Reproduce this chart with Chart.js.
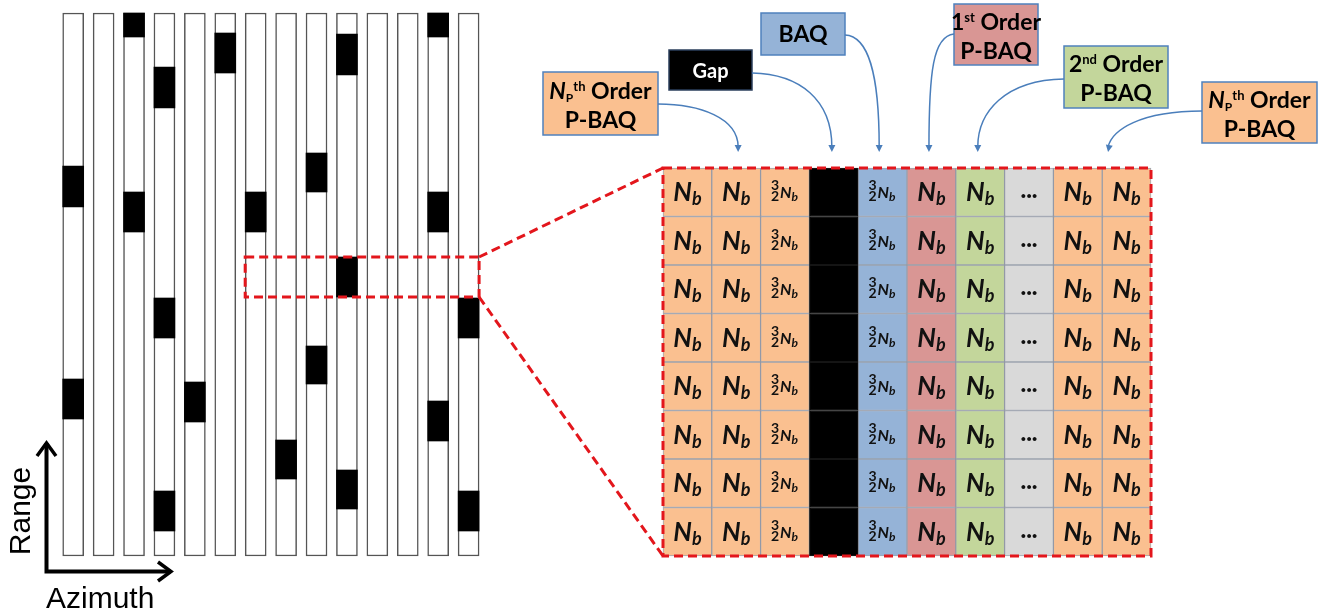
<!DOCTYPE html>
<html>
<head>
<meta charset="utf-8">
<script src="https://cdn.jsdelivr.net/npm/chart.js@4.4.0/dist/chart.umd.min.js"></script>
<style>
  html, body { margin: 0; padding: 0; background: #fff; }
  canvas { display: block; }
</style>
</head>
<body>
<canvas id="diagram" width="1328" height="616"></canvas>
<script>
// ---- data ----
// Swath: 14 azimuth lines, range in samples counted from the top of the swath
const azimuthLines = [0, 1, 2, 3, 4, 5, 6, 7, 8, 9, 10, 11, 12, 13];
const rangeExtent = [0, 543];
// black (gap) blocks: line index, first and last range sample
const gapLine  = [0, 0, 2, 2, 3, 3, 3, 4, 5, 6, 7, 8, 8, 9, 9, 9, 12, 12, 12, 13, 13];
const gapStart = [153, 366, 0, 179, 54, 285, 478, 369, 20, 179, 427, 140, 333, 21, 244, 457, 0, 179, 388, 285, 478];
const gapEnd   = [194, 406, 24, 219, 95, 325, 518, 409, 60, 219, 466, 179, 371, 62, 284, 496, 24, 219, 428, 325, 518];
// zoomed row
const zoomLines = [6, 13];
const zoomRange = [244, 284];

// Block grid on the right: 10 columns x 8 rows
const blockKinds  = ['np', 'np', 'np', 'gap', 'baq', 'p1', 'p2', 'more', 'np', 'np'];
const blockLabels = ['Nb', 'Nb', '3/2 Nb', '', '3/2 Nb', 'Nb', 'Nb', '...', 'Nb', 'Nb'];
const blockRows = 8;

// Callouts: kind, text lines (runs of [text, style]) and the grid column the arrow points to
const calloutKinds = ['np', 'gap', 'baq', 'p1', 'p2', 'np'];
const calloutLines = [
  [[['N', 'ni'], ['P', 'sub'], ['th', 'sup'], [' Order', 'b']], [['P-BAQ', 'b']]],
  [[['Gap', 'g']]],
  [[['BAQ', 'b']]],
  [[['1', 'b'], ['st', 'sup'], [' Order', 'b']], [['P-BAQ', 'b']]],
  [[['2', 'b'], ['nd', 'sup'], [' Order', 'b']], [['P-BAQ', 'b']]],
  [[['N', 'ni'], ['P', 'sub'], ['th', 'sup'], [' Order', 'b']], [['P-BAQ', 'b']]]
];
const calloutTargets = [1.54, 3.46, 4.43, 5.45, 6.45, 9.12];

const kindColors = { np: '#FAC090', gap: '#000000', baq: '#95B3D7', p1: '#D99694', p2: '#C3D69B', more: '#D9D9D9' };

// ---- layout (pixels) ----
const W = 1328, H = 616;
const boxes = [
  { x: 543, y: 72, w: 115, h: 63, sx: 658, sy: 104, c1: [700, 104], c2: [0, -34] },
  { x: 669, y: 50, w: 83, h: 40, sx: 752, sy: 73, c1: [800, 74], c2: [0, -52] },
  { x: 761, y: 13, w: 84, h: 42, sx: 845, sy: 35, c1: [868, 36], c2: [0, -80] },
  { x: 954, y: 4, w: 84, h: 61, sx: 954, sy: 34, c1: [933, 36], c2: [0, -80] },
  { x: 1064, y: 46, w: 104, h: 62, sx: 1064, sy: 79, c1: [1005, 80], c2: [0, -40] },
  { x: 1202, y: 82, w: 115, h: 61, sx: 1202, sy: 111, c1: [1140, 111], c2: [4, -22] }
];
const arrowEndY = 152;
const RED = '#E3161C';
const BLUE_LINE = '#4A7EBB';
const FONT = 'Lato, "Open Sans", sans-serif';

// map two anchor values to pixels on a hidden linear axis
function fit(v1, p1, v2, p2, total) {
  const k = (p2 - p1) / (v2 - v1);
  const min = v1 - p1 / k;
  return { min, max: min + total / k };
}

const cells = [];
blockKinds.forEach((kind, c) => {
  for (let r = 0; r < blockRows; r++) {
    cells.push({ x: c + 0.5, y: [r, r + 1], kind, label: blockLabels[c] });
  }
});

const runStyles = {
  b:   { font: '700 23px ' + FONT, dy: 0 },
  g:   { font: '700 20px ' + FONT, dy: 0 },
  ni:  { font: 'italic 700 23px ' + FONT, dy: 0 },
  sub: { font: '700 12px ' + FONT, dy: 3 },
  sup: { font: '700 13px ' + FONT, dy: -8 }
};

function drawRuns(ctx, runs, cx, baseline) {
  let total = 0;
  runs.forEach(r => { ctx.font = r.font; r.w = ctx.measureText(r.t).width; total += r.w; });
  let x = cx - total / 2;
  ctx.textAlign = 'left';
  ctx.textBaseline = 'alphabetic';
  runs.forEach(r => { ctx.font = r.font; ctx.fillText(r.t, x, baseline + (r.dy || 0)); x += r.w; });
}

function drawCellLabel(ctx, label, cx, cy) {
  ctx.fillStyle = '#111';
  if (label === 'Nb') {
    drawRuns(ctx, [
      { t: 'N', font: 'italic 700 26px ' + FONT },
      { t: 'b', font: 'italic 700 18px ' + FONT, dy: 4 }
    ], cx, cy + 9);
  } else if (label === '3/2 Nb') {
    ctx.textAlign = 'center';
    ctx.textBaseline = 'alphabetic';
    ctx.font = '700 14px ' + FONT;
    ctx.fillText('3', cx - 10, cy - 2);
    ctx.fillText('2', cx - 10, cy + 9);
    ctx.textAlign = 'left';
    ctx.font = 'italic 700 16px ' + FONT;
    ctx.fillText('N', cx - 5, cy + 6);
    const nw = ctx.measureText('N').width;
    ctx.font = 'italic 700 12px ' + FONT;
    ctx.fillText('b', cx - 5 + nw, cy + 9);
  } else if (label === '...') {
    ctx.textAlign = 'center';
    ctx.textBaseline = 'alphabetic';
    ctx.font = '900 24px ' + FONT;
    ctx.fillText('...', cx, cy + 6);
  }
}

function dashedRect(ctx, x1, y1, x2, y2) {
  ctx.strokeRect(x1, y1, x2 - x1, y2 - y1);
}

const diagramPlugin = {
  id: 'diagram',
  afterDatasetsDraw(chart) {
    const ctx = chart.ctx;
    const { xL, yL, xR, yR } = chart.scales;
    ctx.save();

    // labels in the grid cells
    const meta = chart.getDatasetMeta(0);
    meta.data.forEach((el, i) => {
      const raw = chart.data.datasets[0].data[i];
      drawCellLabel(ctx, raw.label, el.x, (el.y + el.base) / 2);
    });

    // red dashed zoom frame and connectors
    const half = 10.5;
    const zx1 = xL.getPixelForValue(zoomLines[0]) - half;
    const zx2 = xL.getPixelForValue(zoomLines[1]) + half;
    const zy1 = yL.getPixelForValue(zoomRange[0]);
    const zy2 = yL.getPixelForValue(zoomRange[1]);
    const gx1 = xR.getPixelForValue(0), gx2 = xR.getPixelForValue(blockKinds.length);
    const gy1 = yR.getPixelForValue(0), gy2 = yR.getPixelForValue(blockRows);
    ctx.strokeStyle = RED;
    ctx.lineWidth = 3;
    ctx.setLineDash([9, 5]);
    dashedRect(ctx, zx1, zy1, zx2, zy2);
    dashedRect(ctx, gx1, gy1, gx2, gy2);
    ctx.beginPath();
    ctx.moveTo(zx2, zy1); ctx.lineTo(gx1, gy1);
    ctx.moveTo(zx2, zy2); ctx.lineTo(gx1, gy2);
    ctx.stroke();
    ctx.setLineDash([]);

    // callouts with curved arrows
    boxes.forEach((b, i) => {
      const kind = calloutKinds[i];
      ctx.fillStyle = kindColors[kind];
      ctx.fillRect(b.x, b.y, b.w, b.h);
      ctx.strokeStyle = kind === 'gap' ? '#2b3f5c' : '#4F81BD';
      ctx.lineWidth = 1.5;
      ctx.strokeRect(b.x, b.y, b.w, b.h);
      ctx.fillStyle = kind === 'gap' ? '#fff' : '#000';
      const lines = calloutLines[i];
      const mid = b.y + b.h / 2;
      const bases = lines.length === 1 ? [mid + 8] : [mid - 5, mid + 24];
      lines.forEach((line, j) => {
        const runs = line.map(([t, s]) => ({ t, font: runStyles[s].font, dy: runStyles[s].dy }));
        drawRuns(ctx, runs, b.x + b.w / 2, bases[j]);
      });

      const ex = xR.getPixelForValue(calloutTargets[i]);
      const ey = arrowEndY;
      const c2x = ex + b.c2[0], c2y = ey + b.c2[1];
      ctx.strokeStyle = BLUE_LINE;
      ctx.lineWidth = 1.5;
      ctx.beginPath();
      ctx.moveTo(b.sx, b.sy);
      ctx.bezierCurveTo(b.c1[0], b.c1[1], c2x, c2y, ex, ey - 5);
      ctx.stroke();
      const ang = Math.atan2(ey - c2y, ex - c2x);
      const len = 7, hw = 3.5;
      ctx.fillStyle = BLUE_LINE;
      ctx.beginPath();
      ctx.moveTo(ex, ey);
      ctx.lineTo(ex - len * Math.cos(ang) - hw * Math.sin(ang), ey - len * Math.sin(ang) + hw * Math.cos(ang));
      ctx.lineTo(ex - len * Math.cos(ang) + hw * Math.sin(ang), ey - len * Math.sin(ang) - hw * Math.cos(ang));
      ctx.closePath();
      ctx.fill();
    });

    // Range / Azimuth axes arrows
    ctx.strokeStyle = '#000';
    ctx.lineWidth = 4;
    ctx.lineCap = 'butt';
    ctx.lineJoin = 'miter';
    ctx.beginPath();
    ctx.moveTo(46.5, 443); ctx.lineTo(46.5, 571.5); ctx.lineTo(171, 571.5);
    ctx.stroke();
    ctx.lineWidth = 3.5;
    ctx.beginPath();
    ctx.moveTo(37, 456); ctx.lineTo(46.5, 443); ctx.lineTo(56, 456);
    ctx.moveTo(158, 562); ctx.lineTo(171, 571.5); ctx.lineTo(158, 581);
    ctx.stroke();

    ctx.fillStyle = '#000';
    ctx.font = '30px "Liberation Sans", Arial, sans-serif';
    ctx.textAlign = 'left';
    ctx.textBaseline = 'alphabetic';
    ctx.fillText('Azimuth', 46, 608);
    ctx.save();
    ctx.translate(30, 511);
    ctx.rotate(-Math.PI / 2);
    ctx.textAlign = 'center';
    ctx.fillText('Range', 0, 0);
    ctx.restore();

    ctx.restore();
  }
};

const hiddenLinear = (axis, extra) => Object.assign(
  { type: 'linear', axis, display: false, bounds: 'data', offset: false, grace: 0 }, extra);

new Chart(document.getElementById('diagram'), {
  type: 'bar',
  data: {
    datasets: [
      {
        label: 'blocks',
        xAxisID: 'xR', yAxisID: 'yR',
        data: cells,
        backgroundColor: c => (c.raw ? kindColors[c.raw.kind] : '#fff'),
        borderColor: c => (c.raw && c.raw.kind === 'gap' ? '#1c1c1c' : 'rgba(95,105,125,0.6)'),
        borderWidth: 1,
        borderSkipped: false,
        barPercentage: 1,
        categoryPercentage: 1,
        grouped: false,
        order: 3
      },
      {
        label: 'gaps',
        xAxisID: 'xL', yAxisID: 'yL',
        data: gapLine.map((l, j) => ({ x: l, y: [gapStart[j], gapEnd[j]] })),
        backgroundColor: '#000',
        borderWidth: 0,
        borderSkipped: false,
        barThickness: 21,
        grouped: false,
        order: 1
      },
      {
        label: 'lines',
        xAxisID: 'xL', yAxisID: 'yL',
        data: azimuthLines.map(i => ({ x: i, y: rangeExtent })),
        backgroundColor: '#fff',
        borderColor: '#555',
        borderWidth: 1.5,
        borderSkipped: false,
        barThickness: 21,
        grouped: false,
        order: 2
      }
    ]
  },
  options: {
    responsive: false,
    animation: false,
    devicePixelRatio: 1,
    layout: { padding: 0 },
    plugins: { legend: { display: false }, tooltip: { enabled: false } },
    scales: {
      xL: hiddenLinear('x', fit(0, 73.2, 13, 468.6, W)),
      yL: hiddenLinear('y', Object.assign({ reverse: true }, fit(0, 13, 543, 556, H))),
      xR: hiddenLinear('x', fit(0, 663, 10, 1151, W)),
      yR: hiddenLinear('y', Object.assign({ reverse: true }, fit(0, 168, 8, 556, H)))
    }
  },
  plugins: [diagramPlugin]
});
</script>
</body>
</html>
